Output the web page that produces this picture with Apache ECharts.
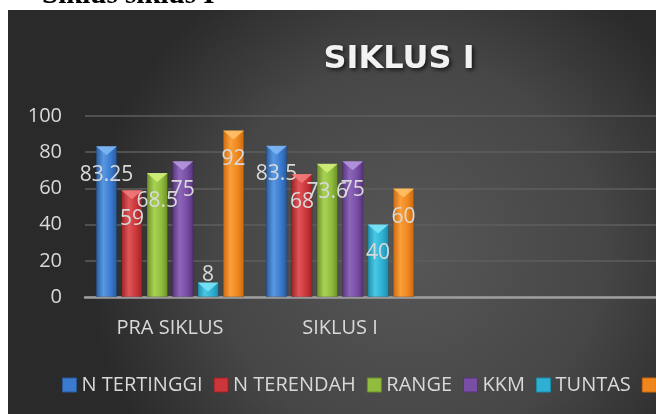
<!DOCTYPE html>
<html>
<head>
<meta charset="utf-8">
<script src="https://cdn.jsdelivr.net/npm/echarts@6/dist/echarts.min.js"></script>
<style>
html,body{margin:0;padding:0;background:#fff;}
#c{width:656px;height:414px;}
</style>
</head>
<body>
<div id="c"></div>
<script>
const categories = ['PRA SIKLUS', 'SIKLUS I', ' ', '  '];
const seriesNames = ['N TERTINGGI', 'N TERENDAH', 'RANGE', 'KKM', 'TUNTAS', 'PERSENTASE'];
const nTertinggi = [83.25, 83.5];
const nTerendah = [59, 68];
const rangeVals = [68.5, 73.6];
const kkm = [75, 75];
const tuntas = [8, 40];
const persentase = [92, 60];
const yMin = 0, yMax = 100, yInterval = 20;

const allValues = [nTertinggi, nTerendah, rangeVals, kkm, tuntas, persentase];
const palette = [
  {dark:'#28599a', mid:'#3b7bcf', light:'#5898e3', cap:'#7db6f4'},
  {dark:'#9c2224', mid:'#cc363a', light:'#de5558', cap:'#f07a7a'},
  {dark:'#6a8f27', mid:'#90bd3e', light:'#a9d255', cap:'#d2ef7a'},
  {dark:'#57337d', mid:'#784fa5', light:'#8d66ba', cap:'#b596dd'},
  {dark:'#1d8cab', mid:'#2db0d3', light:'#4ac8e6', cap:'#7ae3f5'},
  {dark:'#cc680c', mid:'#ef871e', light:'#fb9f3a', cap:'#ffc066'}
];

const barW = 21, barGap = '21%';
const series = [];
allValues.forEach((vals, i) => {
  const p = palette[i];
  series.push({
    name: seriesNames[i],
    type: 'bar',
    barWidth: barW,
    barGap: barGap,
    z: 2,
    itemStyle: {
      color: {type:'linear', x:0, y:0, x2:1, y2:0, colorStops:[
        {offset:0, color:p.dark},{offset:0.35, color:p.light},{offset:0.7, color:p.mid},{offset:1, color:p.dark}]},
      borderColor: 'rgba(0,0,0,0.25)', borderWidth: 0.5
    },
    label: {
      show: true, position: 'insideTop', distance: 18,
      color: '#d9d9d9', fontFamily: 'Open Sans', fontSize: 21,
      textBorderWidth: 0, textShadowBlur: 0
    },
    data: vals.map(v => v < 15 ? {value: v, label: {position: 'top', distance: -3}} : v)
  });
});
allValues.forEach((vals, i) => {
  const p = palette[i];
  series.push({
    name: seriesNames[i],
    type: 'pictorialBar',
    barWidth: barW,
    barGap: barGap,
    z: 3,
    symbol: 'path://M0,0 L20,0 L10,8 Z',
    symbolSize: [barW, 9],
    symbolPosition: 'end',
    itemStyle: {color: p.cap, opacity: 0.9},
    silent: true,
    data: vals
  });
});

const chart = echarts.init(document.getElementById('c'), null, {renderer: 'canvas'});
chart.setOption({
  animation: false,
  backgroundColor: '#ffffff',
  graphic: [
    {type:'rect', z:-10, silent:true, shape:{x:8, y:10, width:648, height:404},
     style:{fill:{type:'radial', x:0.62, y:0.6, r:0.8, colorStops:[
       {offset:0, color:'#575757'},{offset:0.6, color:'#464646'},{offset:1, color:'#2a2a2a'}]}}},
    {type:'text', z:100, left:42, top:-19, silent:true,
     style:{text:'Siklus siklus I', fill:'#000', font:'bold 29px "Liberation Serif"'}},
    {type:'text', z:100, silent:true, x:399, y:60,
     style:{text:'SIKLUS I', fill:'#f2f2f2', font:'bold 32px "DejaVu Sans"', align:'center', verticalAlign:'middle',
       textShadowColor:'rgba(0,0,0,0.7)', textShadowBlur:4, textShadowOffsetX:2, textShadowOffsetY:2,
       shadowColor:'rgba(0,0,0,0.7)', shadowBlur:4, shadowOffsetX:2, shadowOffsetY:2}}
  ],
  grid: {left: 85, top: 116, width: 680, height: 181, outerBoundsMode: 'none', containLabel: false},
  legend: {
    left: 57, top: 370, width: 1500, icon: 'rect', itemWidth: 14, itemHeight: 14, itemGap: 11,
    textStyle: {color: '#d9d9d9', fontFamily: 'Open Sans', fontSize: 20},
    data: seriesNames.map((n, i) => ({name: n, itemStyle: {color: palette[i].mid, borderColor: palette[i].dark, borderWidth: 1}}))
  },
  xAxis: {
    type: 'category', data: categories,
    axisLine: {show: true, lineStyle: {color: '#9e9e9e', width: 2.5}},
    axisTick: {show: false},
    axisLabel: {color: '#d9d9d9', fontFamily: 'Open Sans', fontSize: 20, margin: 21},
    splitLine: {show: false}
  },
  yAxis: {
    type: 'value', min: yMin, max: yMax, interval: yInterval,
    axisLine: {show: false}, axisTick: {show: false},
    axisLabel: {color: '#d9d9d9', fontFamily: 'Open Sans', fontSize: 20, margin: 23},
    splitLine: {lineStyle: {color: '#5e5e5e', width: 1.5}}
  },
  series: series
});
</script>
</body>
</html>
